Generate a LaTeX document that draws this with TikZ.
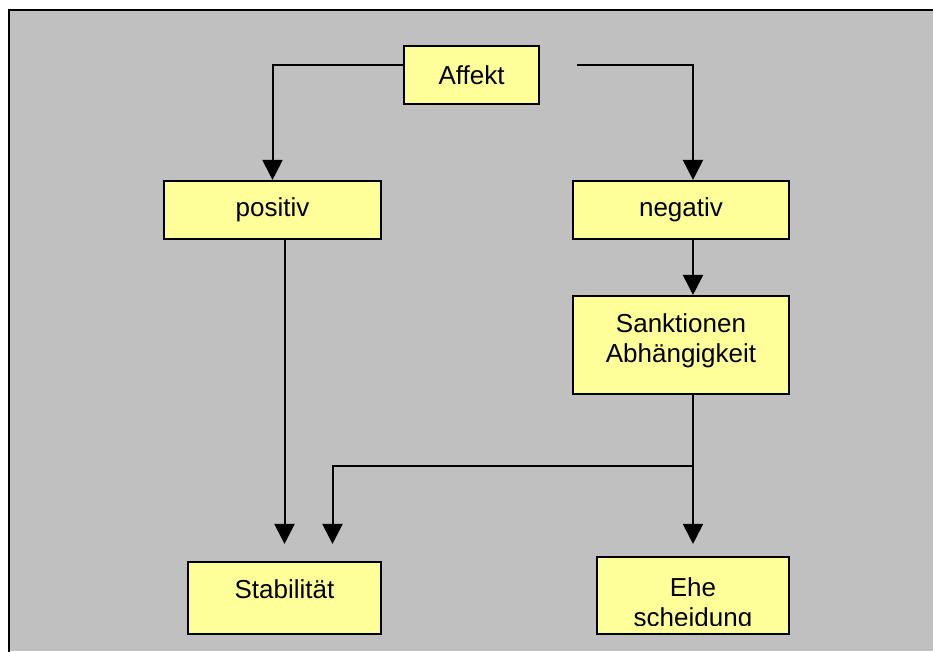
\documentclass[tikz,border=0pt]{standalone}
\usepackage{fontspec}
\setmainfont{Liberation Sans}
\usetikzlibrary{arrows.meta,calc}
\definecolor{bg}{HTML}{C0C0C0}
\definecolor{boxfill}{HTML}{FFFF99}
\begin{document}
\begin{tikzpicture}[x=0.75pt,y=-0.75pt,
  box/.style={draw=black,line width=1.6pt,fill=boxfill,inner sep=0pt,rectangle},
  lbl/.style={inner sep=0pt,font=\fontsize{19.5pt}{22.5pt}\selectfont,align=center},
  conn/.style={line width=1.5pt,-{Triangle[length=15pt,width=15pt]}},
  wire/.style={line width=1.5pt}]
\useasboundingbox (0,0) rectangle (933,651);
\fill[white] (0,0) rectangle (933,651);
\fill[bg] (9,10) rectangle (933,651);
\draw[line width=1.5pt,line cap=rect] (9,651) -- (9,10) -- (933,10);

% boxes
\node[box,lbl,minimum width=101.25pt,minimum height=43.5pt] (aff) at (471.5,75) {Affekt};
\node[box,lbl,minimum width=162.75pt,minimum height=43.5pt] (pos) at (272.5,210) {positiv};
\node[box,lbl,minimum width=162pt,minimum height=43.5pt] (neg) at (681,210) {negativ};
\node[box,minimum width=162pt,minimum height=73.5pt] (sank) at (681,345) {};
\node[box,minimum width=144.75pt,minimum height=54pt] (stab) at (284.5,598) {};
\node[box,minimum width=144pt,minimum height=57.75pt] (ehe) at (693,595.5) {};

% texts of the tall boxes
\node[lbl,anchor=north] (sankT) at (681,313) {Sanktionen\\Abhängigkeit};
\node[lbl,anchor=base] (stabT) at (284.5,598) {Stabilität};
\begin{scope}
  \clip (595,555) rectangle (790,625);
  \node[lbl,anchor=north] (eheT) at (693,577) {Ehe\\scheidung};
\end{scope}

% connectors
\coordinate (a1) at ($(aff.north west)!0.33!(aff.south west)$);
\coordinate (r0) at (577,65);
\coordinate (j) at (693,466);
\draw[conn] (a1) -| (pos.north);
\draw[conn] (r0) -| ([xshift=9pt]neg.north);
\draw[conn] ([xshift=9pt]neg.south) -- ([xshift=9pt]sank.north);
\draw[conn] (pos.south -| stab.north) -- ([yshift=12.75pt]stab.north);
\draw[conn] ([xshift=9pt]sank.south) -- ([yshift=9pt]ehe.north);
\draw[conn] (j) -| ([xshift=36pt,yshift=12.75pt]stab.north);
\end{tikzpicture}
\end{document}
